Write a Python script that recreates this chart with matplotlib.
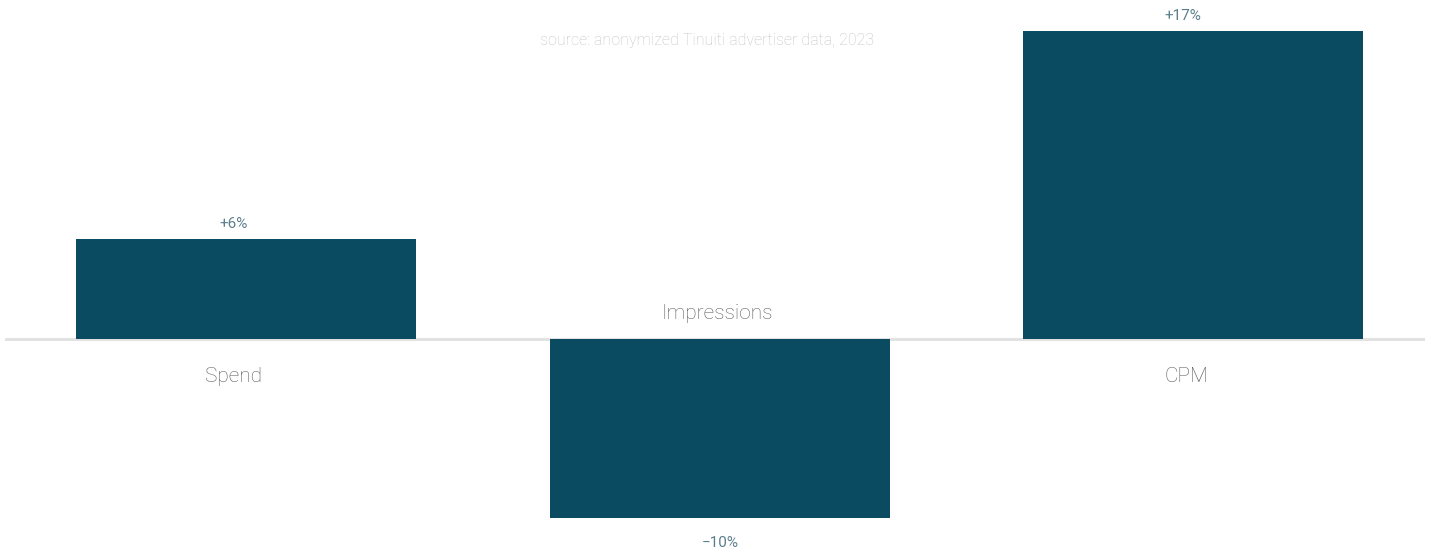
import matplotlib.pyplot as plt

categories = ['Spend', 'Impressions', 'CPM']
changes = [5.6, -9.9, 17.15]
labels = ['+6%', '\u221210%', '+17%']
source = 'source: anonymized Tinuiti advertiser data, 2023'

BAR = '#0a4b61'
FONT = ['Roboto', 'DejaVu Sans']
# labels sit a little left of the bar centres in the original (pixels)
value_dx = [-13, 1, -10]
cat_dx = [-13, -2, -7]

fig = plt.figure(figsize=(14.3, 5.52), dpi=100)
ax = fig.add_axes([5 / 1430, 0, 1420 / 1430, 1])

x = range(len(categories))
ax.bar(x, changes, width=0.718, color=BAR, zorder=3)
ax.axhline(0, color='#e2e2e2', lw=2.2, zorder=2)

ax.set_xlim(-0.51, 2.49)
ax.set_ylim(-11.81, 18.86)
ax.axis('off')

px = 72 / 100  # points per pixel
for i, (cat, v, lab) in enumerate(zip(categories, changes, labels)):
    # value label outside the bar, category label on the other side of the baseline
    if v >= 0:
        val_dy, cat_dy = 15, -37
    else:
        val_dy, cat_dy = -25, 25.5
    ax.annotate(lab, (i, v), xytext=(value_dx[i] * px, val_dy * px),
                textcoords='offset points', ha='center', va='center',
                fontsize=11, color='#5a7e8e', family=FONT)
    ax.annotate(cat, (i, 0), xytext=(cat_dx[i] * px, cat_dy * px),
                textcoords='offset points', ha='center', va='center',
                fontsize=15, color='#5c5c5c', family=FONT, fontweight='light')

fig.text(707 / 1430, 1 - 41 / 552, source, ha='center', va='center',
         fontsize=11.5, color='#c4c4c4', family=FONT, fontweight='light')

fig.savefig('out.png', dpi=100)
